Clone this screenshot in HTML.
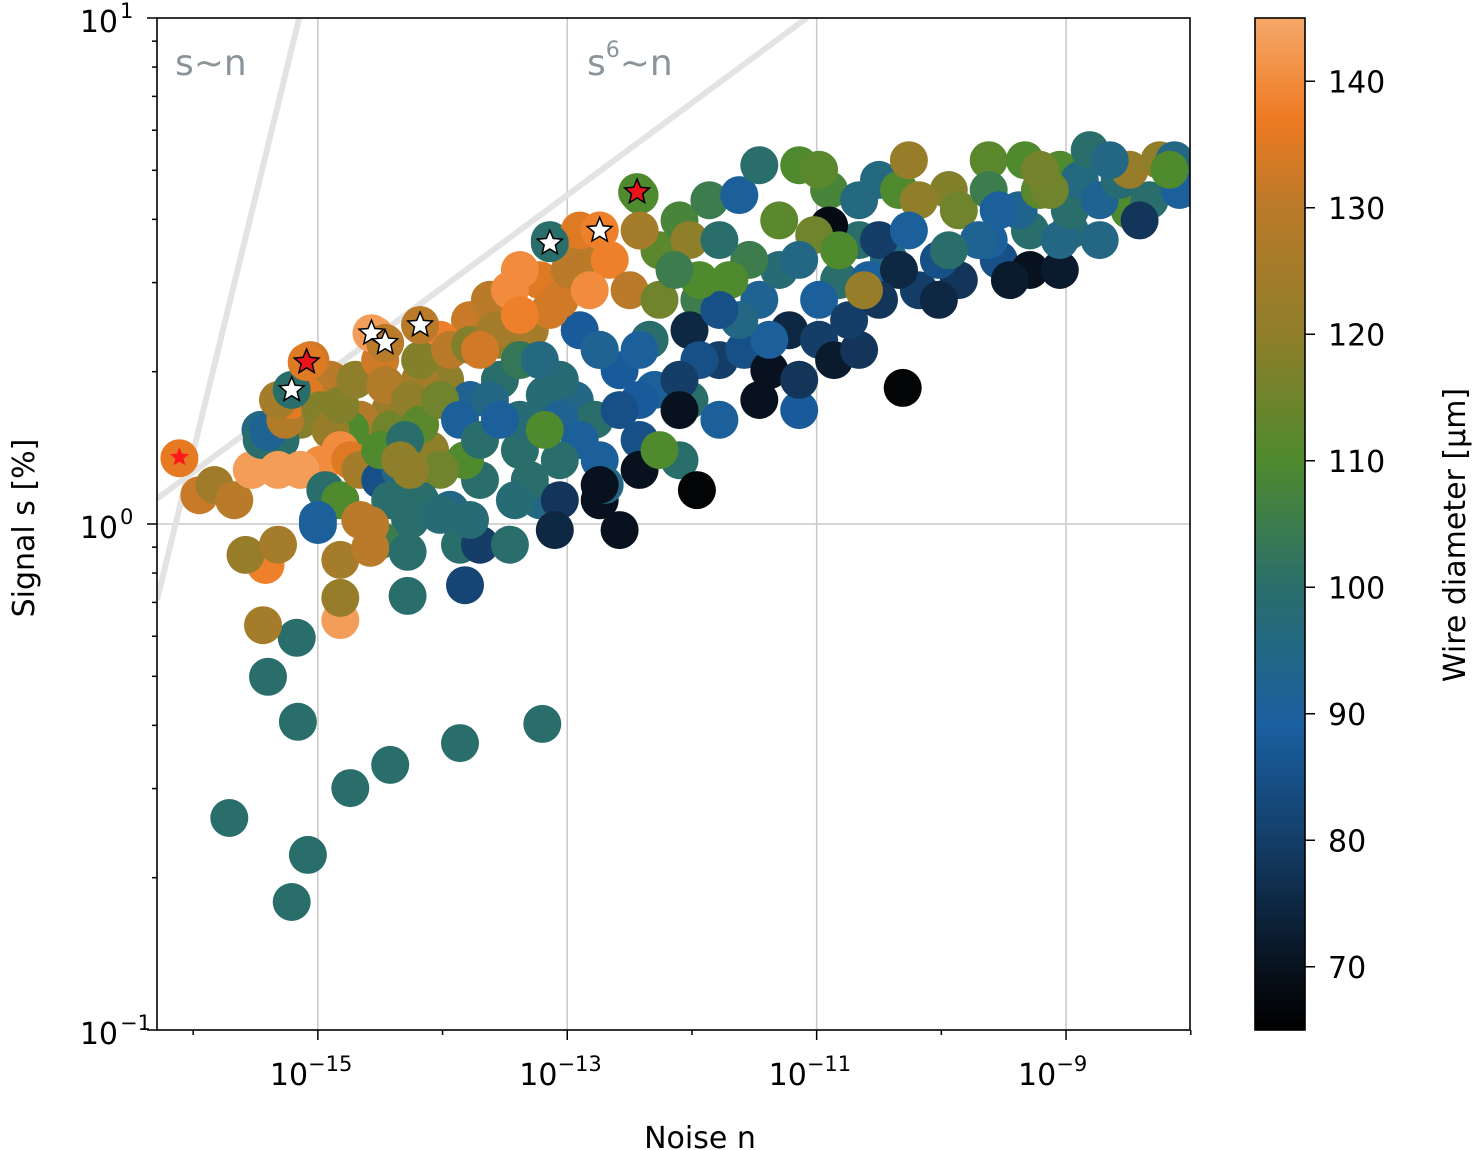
<!DOCTYPE html>
<html><head><meta charset="utf-8"><style>
html,body{margin:0;padding:0;background:#fff;}
svg{display:block;font-family:"DejaVu Sans","Liberation Sans",sans-serif;}
</style></head><body>
<svg id="chart" width="1473" height="1150" viewBox="0 0 1473 1150" xmlns="http://www.w3.org/2000/svg">
<defs>
<clipPath id="plotclip"><rect x="157" y="18" width="1033" height="1012"/></clipPath>
<linearGradient id="cbgrad" x1="0" y1="1" x2="0" y2="0">
<stop offset="0" stop-color="#000000"/>
<stop offset="0.0625" stop-color="#08121e"/>
<stop offset="0.1875" stop-color="#143e68"/>
<stop offset="0.30" stop-color="#1a5fa0"/>
<stop offset="0.4375" stop-color="#2a6e6c"/>
<stop offset="0.5625" stop-color="#4f8a2e"/>
<stop offset="0.6875" stop-color="#8f7e2a"/>
<stop offset="0.8125" stop-color="#b97a2a"/>
<stop offset="0.90" stop-color="#ee7a22"/>
<stop offset="1" stop-color="#f5a86a"/>
</linearGradient>
</defs>
<g id="grid"></g>
<g id="reflines" clip-path="url(#plotclip)"></g>
<text x="175" y="75" font-size="36" fill="#8a9499">s~n</text>
<text x="587" y="75" font-size="36" fill="#8a9499">s<tspan dy="-18" font-size="22">6</tspan><tspan dy="18">~n</tspan></text>
<g id="points" clip-path="url(#plotclip)"></g>
<g id="stars"></g>
<rect x="157" y="18" width="1033" height="1012" fill="none" stroke="#000" stroke-width="1.6"/>
<g id="axes"></g>
<text x="700" y="1148" font-size="30" text-anchor="middle">Noise n</text>
<text transform="translate(34,528) rotate(-90)" font-size="30" text-anchor="middle">Signal s [%]</text>
<rect x="1255" y="18" width="50" height="1012" fill="url(#cbgrad)" stroke="#000" stroke-width="1.6"/>
<g id="cbaxis"></g>
<text transform="translate(1465,535) rotate(-90)" font-size="30" text-anchor="middle">Wire diameter [µm]</text>
</svg>
<script>
const fillNoiseExp=[-13.98,-13.78,-13.54,-13.30,-13.18,-12.94,-12.78,-12.58,-12.30,-12.02,-11.94,-11.78,-11.58,-11.46,-11.30,-11.22,-10.98,-10.86,-10.66,-11.54,-11.30,-10.66,-10.42,-10.18,-9.86,-9.54,-9.29,-8.97,-8.73,-8.49,-8.33,-8.09,-9.05,-9.62,-9.94,-10.50,-10.90,-12.90,-13.22,-13.54,-13.78,-14.02,-14.18,-14.42,-14.66,-14.90,-15.14,-15.30,-15.46,-14.74,-14.42,-14.10,-13.70,-13.38,-13.06,-12.42,-12.10,-12.74,-13.22,-13.94,-14.26,-14.50,-14.82];
const fillSignalLog=[0.285,0.245,0.364,0.383,0.255,0.245,0.206,0.304,0.265,0.245,0.443,0.324,0.344,0.443,0.502,0.383,0.364,0.324,0.344,0.522,0.60,0.561,0.522,0.462,0.482,0.522,0.58,0.58,0.561,0.62,0.64,0.70,0.70,0.719,0.66,0.68,0.66,0.522,0.482,0.423,0.403,0.364,0.285,0.225,0.206,0.285,0.206,0.166,0.186,0.186,0.186,0.146,0.087,0.146,0.206,0.166,0.126,0.126,0.047,0.028,0.008,-0.032,-0.071];
const fillDiameter=[120,92,120,125,98,95,100,88,90,100,105,80,85,92,98,75,80,72,78,105,112,100,95,80,78,85,100,98,95,110,100,118,110,112,118,96,108,130,135,138,132,138,125,122,128,130,118,100,95,110,115,120,100,100,92,85,100,90,95,95,100,105,125];
const noiseExp=[-16.11,-15.95,-15.83,-15.67,-15.53,-15.45,-15.40,-15.26,-15.22,-15.14,-15.32,-15.06,-15.10,-14.98,-14.90,-14.82,-14.70,-14.82,-14.98,-14.74,-15.14,-15.32,-14.94,-14.82,-15.0,-14.66,-14.50,-14.34,-14.50,-14.54,-14.50,-14.46,-14.18,-14.18,-14.26,-14.18,-14.30,-14.02,-13.94,-13.78,-13.86,-13.82,-14.02,-13.62,-13.58,-13.54,-13.62,-13.70,-13.38,-13.38,-13.54,-13.30,-13.42,-13.06,-13.10,-12.58,-12.74,-12.70,-12.42,-12.42,-12.90,-13.06,-13.18,-13.06,-13.22,-12.90,-13.06,-12.98,-13.14,-12.74,-12.42,-12.66,-12.50,-12.26,-12.10,-12.02,-12.26,-12.34,-12.02,-11.94,-12.10,-12.42,-12.74,-12.58,-12.10,-12.26,-11.78,-11.46,-11.38,-11.14,-11.14,-11.38,-11.62,-11.70,-11.78,-11.86,-11.62,-11.46,-11.14,-10.98,-10.90,-11.02,-11.14,-10.82,-10.98,-10.74,-10.58,-10.82,-10.66,-10.50,-10.34,-10.26,-10.18,-10.26,-10.34,-10.02,-9.86,-10.02,-10.50,-10.62,-9.62,-9.62,-9.38,-9.33,-9.21,-9.29,-9.45,-9.05,-9.05,-8.97,-8.89,-8.81,-8.73,-8.57,-8.49,-8.41,-8.25,-8.13,-8.09,-8.17,-9.54,-9.70,-9.94,-9.13,-9.21,-8.65,-13.86,-13.82,-13.70,-13.46,-14.42,-14.18,-14.02,-13.78,-14.66,-14.34,-14.26,-12.74,-11.78,-11.94,-12.14,-12.42,-12.90,-13.14,-13.38,-13.46,-13.70,-13.38,-12.82,
-15.71,-15.21,-15.08,-14.74,-14.42,-13.86,-13.20,-15.16,-15.40,-15.17,-14.28,-14.28,-15.44,-14.82,-14.82,-15.42,-15.58,-15.32,-14.58,-14.58,-15.0,
-15.21,-14.57,-14.46,-14.18,-13.14,-12.74,-15.09,-12.44,-10.31,-11.96,-12.74];
const signalLog=[0.130,0.057,0.077,0.047,0.107,0.166,0.182,0.206,0.245,0.265,0.245,0.324,0.255,0.225,0.186,0.235,0.285,0.146,0.117,0.126,0.107,0.107,0.067,0.047,0.008,0.107,0.087,0.107,0.146,0.373,0.324,0.275,0.393,0.324,0.245,0.196,0.166,0.245,0.344,0.354,0.206,0.126,0.107,0.443,0.383,0.285,0.245,0.166,0.206,0.324,0.206,0.087,0.047,0.047,-0.012,-0.012,0.047,0.077,0.107,0.245,0.166,0.126,0.186,0.285,0.324,0.383,0.443,0.502,0.561,0.58,0.65,0.522,0.462,0.541,0.60,0.561,0.443,0.364,0.383,0.324,0.285,0.344,0.344,0.225,0.225,0.146,0.206,0.245,0.304,0.225,0.285,0.364,0.403,0.482,0.561,0.64,0.65,0.709,0.709,0.70,0.59,0.571,0.522,0.482,0.443,0.403,0.482,0.541,0.64,0.561,0.66,0.719,0.64,0.58,0.502,0.522,0.62,0.443,0.443,0.462,0.561,0.66,0.62,0.719,0.66,0.502,0.482,0.502,0.561,0.62,0.68,0.739,0.64,0.68,0.70,0.60,0.719,0.719,0.66,0.70,0.62,0.561,0.541,0.66,0.70,0.719,-0.041,-0.121,-0.041,-0.041,0.047,0.047,0.018,0.008,0.008,0.126,0.107,0.344,0.423,0.482,0.502,0.58,0.58,0.423,0.502,0.462,0.344,0.413,0.462,
-0.581,-0.747,-0.654,-0.522,-0.476,-0.433,-0.395,-0.391,-0.302,-0.225,-0.142,-0.055,-0.200,-0.190,-0.146,-0.081,-0.061,-0.041,-0.047,-0.002,-0.002,
0.265,0.377,0.358,0.393,0.555,0.58,0.32,0.656,0.269,0.067,0.077];
const diameter=[136,132,124,130,143,100,92,128,136,100,125,133,135,118,122,118,120,140,140,135,143,143,100,110,90,125,85,95,110,143,133,128,130,118,120,112,100,115,130,118,90,110,115,130,125,100,95,100,98,103,90,100,98,78,75,70,70,95,70,88,90,100,110,98,96,88,133,130,100,140,110,138,130,112,108,120,115,100,75,85,80,90,92,85,70,110,90,70,70,88,78,90,95,110,100,105,90,100,110,112,68,115,95,100,90,80,90,110,96,80,110,122,120,90,75,85,115,75,78,122,90,105,93,110,112,70,72,72,95,100,96,100,92,98,122,78,120,95,90,110,90,92,100,115,116,95,100,82,80,100,100,100,98,98,130,120,120,92,85,110,105,125,135,133,140,140,133,138,140,
100,100,100,100,100,100,100,100,100,100,100,100,125,143,122,138,122,125,130,130,90,
100,143,130,130,100,138,135,110,66,66,70];
const starNoise=[-16.11,-15.21,-14.57,-14.46,-14.18,-13.14,-12.74,-15.09,-12.44];
const starSignalLog=[0.132,0.265,0.377,0.358,0.393,0.555,0.58,0.32,0.656];
const starType=['small-red','white','white','white','white','white','white','red','red'];
const yTickLabels=['10','10','10'];const yTickExps=[1,0,-1];
const xTickExps=[-15,-13,-11,-9];
const cbTicks=[70,80,90,100,110,120,130,140];

const NS='http://www.w3.org/2000/svg';
const X0=157,X1=1190,Y0=18,Y1=1030;
const xMin=-16.29,xMax=-8.006;
function xs(e){return X0+(e-xMin)/(xMax-xMin)*(X1-X0);}
function ys(l){return Y1-(l+1)/2*(Y1-Y0);}
function cy(v){return 1030-(v-65)/80*1012;}
const stops=[[65,[0,0,0]],[70,[8,18,30]],[80,[20,62,104]],[89,[26,95,160]],[100,[42,110,108]],[110,[79,138,46]],[120,[143,126,42]],[130,[185,122,42]],[137,[238,122,34]],[145,[245,168,106]]];
function cmap(v){v=Math.max(65,Math.min(145,v));for(let i=0;i<stops.length-1;i++){const a=stops[i],b=stops[i+1];if(v<=b[0]){const t=(v-a[0])/(b[0]-a[0]);const c=a[1].map((x,k)=>Math.round(x+(b[1][k]-x)*t));return 'rgb('+c.join(',')+')';}}return 'rgb(245,168,106)';}
function mk(tag,attrs,parent){const e=document.createElementNS(NS,tag);for(const k in attrs)e.setAttribute(k,attrs[k]);parent.appendChild(e);return e;}

const grid=document.getElementById('grid');
xTickExps.forEach(e=>{const l=mk('line',{x1:xs(e),x2:xs(e),y1:Y0,y2:Y1,stroke:'#c8c8c8','stroke-width':1.5},grid);

});
[0].forEach(e=>{const l=mk('line',{x1:X0,x2:X1,y1:ys(e),y2:ys(e),stroke:'#c8c8c8','stroke-width':1.5},grid);

});

const rl=document.getElementById('reflines');
const l1=mk('line',{x1:xs(-16.29),y1:ys(-0.15),x2:xs(-15.15),y2:ys(1),stroke:'#e3e3e3','stroke-width':6},rl);


const l2=mk('line',{x1:xs(-16.29),y1:ys(0.05),x2:xs(-11.08),y2:ys(1),stroke:'#e3e3e3','stroke-width':6},rl);



const pts=document.getElementById('points');
for(let i=0;i<fillNoiseExp.length;i++){
const c=mk('circle',{cx:xs(fillNoiseExp[i]).toFixed(1),cy:ys(fillSignalLog[i]).toFixed(1),r:19,fill:cmap(fillDiameter[i])},pts);


}
for(let i=0;i<noiseExp.length;i++){
const c=mk('circle',{cx:xs(noiseExp[i]).toFixed(1),cy:ys(signalLog[i]).toFixed(1),r:19,fill:cmap(diameter[i])},pts);


}
function starPath(cx,cy,R){const r=R*0.45;let d='';for(let k=0;k<10;k++){const a=-Math.PI/2+k*Math.PI/5;const rr=k%2?r:R;d+=(k?'L':'M')+(cx+rr*Math.cos(a)).toFixed(1)+','+(cy+rr*Math.sin(a)).toFixed(1);}return d+'Z';}
const st=document.getElementById('stars');
for(let i=0;i<starNoise.length;i++){
const t=starType[i];const cx=xs(starNoise[i]),cyy=ys(starSignalLog[i]);
let s;
if(t==='small-red')s=mk('path',{d:starPath(cx,cyy,10),fill:'#ff1a1a'},st);
else if(t==='red')s=mk('path',{d:starPath(cx,cyy,13),fill:'#e8141a',stroke:'#000','stroke-width':1.5},st);
else s=mk('path',{d:starPath(cx,cyy,13),fill:'#fff',stroke:'#000','stroke-width':1.5},st);


}

const ax=document.getElementById('axes');
for(let d=-1;d<1;d++){for(let m=1;m<10;m++){const v=d+Math.log10(m);const y=ys(v);const major=m===1;
const l=mk('line',{x1:X0,x2:X0-(major?10:5),y1:y,y2:y,stroke:'#000','stroke-width':1.5},ax);

}}
{const l=mk('line',{x1:X0,x2:X0-10,y1:ys(1),y2:ys(1),stroke:'#000','stroke-width':1.5},ax);

}
yTickExps.forEach((e,i)=>{const t=mk('text',{x:118,y:ys(e)+14,'font-size':30,'text-anchor':'end'},ax);


t.textContent=yTickLabels[i];
const s=mk('tspan',{x:120,dy:-14,'font-size':21,'text-anchor':'start'},t);s.textContent=String(e).replace('-','−');});
for(let e=-16;e<=-8;e++){const x=xs(e);const major=xTickExps.indexOf(e)>=0;
const l=mk('line',{x1:x,x2:x,y1:Y1,y2:Y1+(major?10:5),stroke:'#000','stroke-width':1.5},ax);

}
xTickExps.forEach(e=>{const x=xs(e);const t=mk('text',{x:x-48,y:1085,'font-size':30},ax);


t.textContent='10';const s=mk('tspan',{dy:-14,'font-size':21},t);s.textContent='−'+(-e);});
const cb=document.getElementById('cbaxis');
cbTicks.forEach(v=>{const y=cy(v);const l=mk('line',{x1:1305,x2:1315,y1:y,y2:y,stroke:'#000','stroke-width':1.5},cb);


const t=mk('text',{x:1328,y:y+11,'font-size':30},cb);


t.textContent=v;});
</script>
</body></html>
